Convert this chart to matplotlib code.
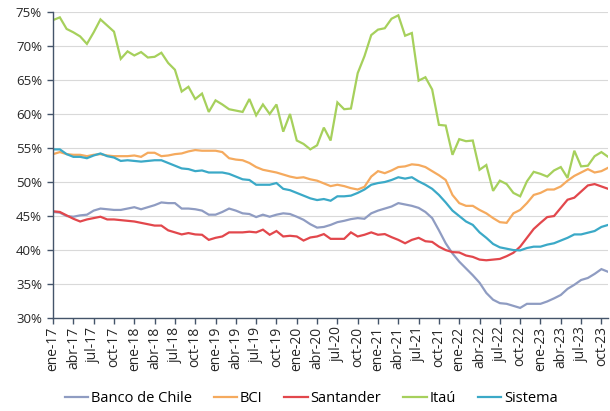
import matplotlib
matplotlib.use("Agg")
import matplotlib.pyplot as plt
from matplotlib.ticker import FuncFormatter

plt.rcParams['font.family'] = ['Open Sans', 'DejaVu Sans']

# monthly, ene-17 .. nov-23
months = ['ene', 'feb', 'mar', 'abr', 'may', 'jun', 'jul', 'ago', 'sep', 'oct', 'nov', 'dic']
dates = [f"{m}-{y}" for y in range(17, 24) for m in months][:83]

chile = [45.6, 45.5, 45.0, 44.9, 45.1, 45.2, 45.8, 46.1, 46.0, 45.9, 45.9, 46.1, 46.3, 46.0,
         46.3, 46.6, 47.0, 46.9, 46.9, 46.1, 46.1, 46.0, 45.8, 45.2, 45.2, 45.6, 46.1, 45.8,
         45.4, 45.3, 44.85, 45.2, 44.9, 45.2, 45.4, 45.3, 44.9, 44.45, 43.8, 43.3, 43.4, 43.7,
         44.1, 44.3, 44.55, 44.7, 44.6, 45.4, 45.8, 46.1, 46.4, 46.9, 46.7, 46.5, 46.2, 45.6,
         44.7, 42.9, 41.0, 39.5, 38.3, 37.3, 36.3, 35.2, 33.7, 32.7, 32.2, 32.1, 31.8, 31.5,
         32.1, 32.1, 32.1, 32.45, 32.9, 33.4, 34.3, 34.9, 35.6, 35.9, 36.5, 37.2, 36.8]

bci = [54.1, 54.4, 54.1, 54.0, 54.0, 53.8, 54.0, 54.1, 53.9, 53.8, 53.8, 53.8, 53.9, 53.7,
       54.3, 54.3, 53.8, 53.9, 54.1, 54.2, 54.5, 54.7, 54.6, 54.6, 54.6, 54.4, 53.5, 53.3,
       53.2, 52.8, 52.2, 51.8, 51.6, 51.4, 51.1, 50.8, 50.6, 50.7, 50.4, 50.2, 49.8, 49.4,
       49.6, 49.4, 49.1, 48.9, 49.3, 50.8, 51.6, 51.3, 51.7, 52.2, 52.3, 52.6, 52.5, 52.2,
       51.6, 51.0, 50.3, 48.1, 46.9, 46.5, 46.5, 45.9, 45.4, 44.7, 44.1, 44.0, 45.4, 45.9,
       46.9, 48.1, 48.4, 48.9, 48.9, 49.35, 50.2, 50.9, 51.4, 51.9, 51.4, 51.6, 52.1]

santander = [45.7, 45.6, 45.1, 44.6, 44.2, 44.5, 44.7, 44.9, 44.5, 44.5, 44.4, 44.3, 44.2, 44.0,
             43.8, 43.6, 43.6, 42.9, 42.6, 42.3, 42.5, 42.3, 42.25, 41.5, 41.8, 42.0, 42.6, 42.6,
             42.6, 42.7, 42.6, 43.0, 42.25, 42.8, 42.0, 42.1, 42.0, 41.4, 41.85, 42.0, 42.35, 41.65,
             41.65, 41.65, 42.6, 42.0, 42.25, 42.6, 42.25, 42.35, 41.9, 41.5, 41.0, 41.5, 41.8, 41.3,
             41.2, 40.5, 40.0, 39.7, 39.65, 39.2, 39.0, 38.6, 38.5, 38.6, 38.7, 39.1, 39.6, 40.5,
             41.8, 43.1, 44.0, 44.85, 45.0, 46.2, 47.4, 47.7, 48.6, 49.5, 49.7, 49.35, 49.0]

itau = [73.8, 74.2, 72.5, 72.0, 71.4, 70.3, 72.0, 73.9, 73.0, 72.1, 68.1, 69.2, 68.6, 69.1,
        68.3, 68.4, 69.0, 67.5, 66.5, 63.3, 64.0, 62.2, 63.0, 60.3, 62.0, 61.4, 60.7, 60.5,
        60.3, 62.2, 59.8, 61.4, 60.0, 61.4, 57.4, 60.0, 56.1, 55.6, 54.8, 55.4, 58.0, 56.1,
        61.7, 60.7, 60.8, 66.0, 68.5, 71.6, 72.4, 72.6, 74.0, 74.5, 71.5, 71.9, 64.9, 65.4,
        63.6, 58.4, 58.3, 54.0, 56.3, 56.0, 56.1, 51.8, 52.5, 48.7, 50.2, 49.7, 48.4, 47.9,
        50.1, 51.5, 51.2, 50.8, 51.7, 52.2, 50.6, 54.6, 52.3, 52.4, 53.8, 54.4, 53.7]

sistema = [54.8, 54.8, 54.1, 53.7, 53.7, 53.5, 53.9, 54.2, 53.8, 53.6, 53.1, 53.2, 53.1, 53.0,
           53.1, 53.2, 53.2, 52.8, 52.4, 52.0, 51.9, 51.6, 51.7, 51.4, 51.4, 51.4, 51.2, 50.8,
           50.4, 50.3, 49.6, 49.6, 49.6, 49.85, 49.0, 48.8, 48.4, 48.0, 47.6, 47.35, 47.5, 47.25,
           47.9, 47.9, 48.0, 48.4, 48.9, 49.6, 49.85, 50.0, 50.3, 50.7, 50.5, 50.7, 50.1, 49.6,
           49.0, 48.1, 47.0, 45.8, 45.0, 44.2, 43.7, 42.6, 41.8, 40.9, 40.4, 40.2, 40.0, 39.95,
           40.3, 40.5, 40.5, 40.8, 41.0, 41.4, 41.8, 42.3, 42.3, 42.55, 42.8, 43.4, 43.7]

series = [
    ("Banco de Chile", chile, "#8F9CC2"),
    ("BCI", bci, "#F5AA5E"),
    ("Santander", santander, "#E2474C"),
    ("Itaú", itau, "#A6D05C"),
    ("Sistema", sistema, "#3BA9C7"),
]

fig = plt.figure(figsize=(6.1, 4.11), dpi=100)
ax = fig.add_axes([0.087, 0.226, 0.91, 0.745])

x = list(range(len(dates)))
for name, vals, col in series:
    ax.plot(x, vals, color=col, lw=1.6, label=name, solid_joinstyle='miter')

ax.set_xlim(0, len(dates) - 1)
ax.set_ylim(30, 75)
ax.set_yticks(range(30, 80, 5))
ax.yaxis.set_major_formatter(FuncFormatter(lambda v, p: f"{v:.0f}%"))
ax.set_xticks(x[::3])
ax.set_xticklabels(dates[::3], rotation=90)

ax.grid(axis='y', color='#D9D9D9', lw=0.8)
ax.set_axisbelow(True)
for s in ['top', 'right']:
    ax.spines[s].set_visible(False)
for s in ['left', 'bottom']:
    ax.spines[s].set_color('#44546A')
    ax.spines[s].set_linewidth(1.0)
ax.tick_params(axis='both', colors='#44546A', labelcolor='#262626', labelsize=9.5,
               length=4, width=1.0)
ax.tick_params(axis='y', pad=4)
ax.tick_params(axis='x', pad=2, labelsize=10)

ax.legend(loc='center', bbox_to_anchor=(0.465, -0.262), ncol=5, frameon=False,
          fontsize=10.5, handlelength=1.6, handletextpad=0.2, columnspacing=1.5)

fig.savefig("out.png", dpi=100)
